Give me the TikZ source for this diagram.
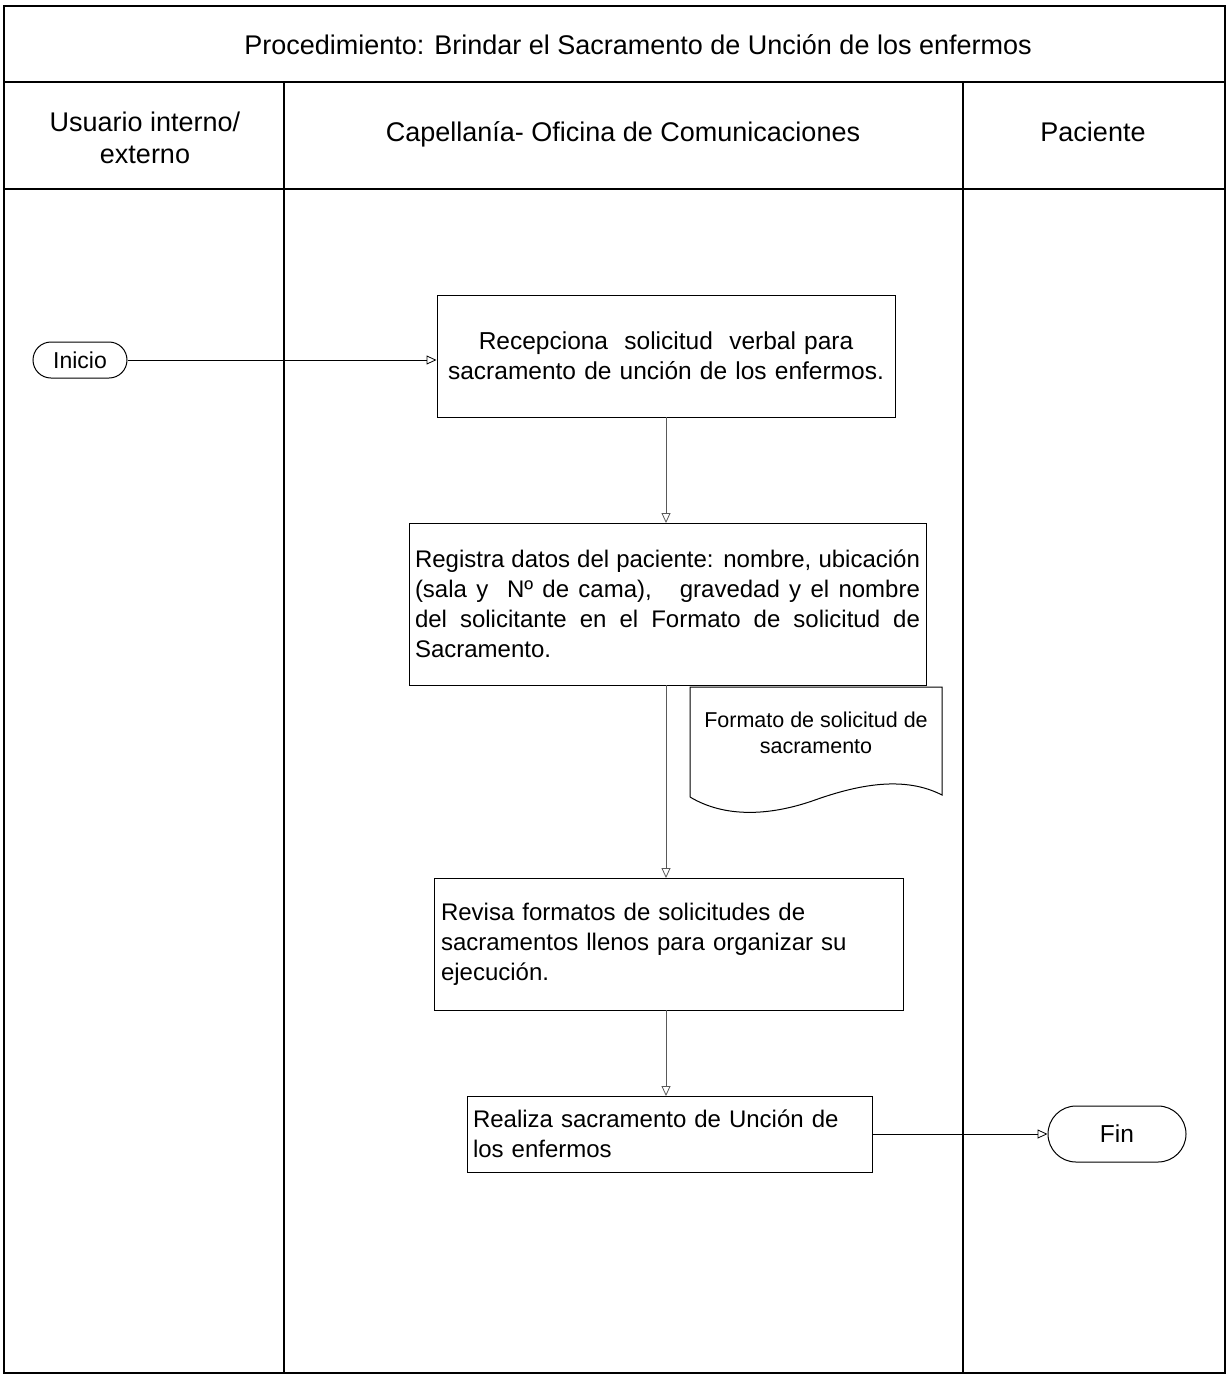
\documentclass[tikz,border=0pt]{standalone}
\usepackage{fontspec}
\setmainfont{Liberation Sans}
\usetikzlibrary{arrows.meta}
\newcommand\titlefont{\fontsize{27}{32}\selectfont}
\newcommand\boxfont{\fontsize{24.5}{30}\selectfont}
\newcommand\smallboxfont{\fontsize{24}{30}\selectfont}
\newcommand\docfont{\fontsize{21.5}{26}\selectfont}
\tikzset{
  frameline/.style={line width=1.6pt},
  laneline/.style={line width=1.1pt},
  stepbox/.style={draw, line width=1pt, rectangle, inner ysep=0pt, font=\boxfont},
  terminal/.style={draw, line width=1pt, rectangle, inner sep=0pt, font=\boxfont},
  flow/.style={line width=0.8pt, -{Triangle[open, length=10pt, width=9pt]}},
  vflow/.style={flow, draw=black!65},
}
\begin{document}
\begin{tikzpicture}[x=1pt, y=-1pt]
\useasboundingbox (0,0) rectangle (1228,1376);

% swimlane frame
\draw[frameline] (4,6) rectangle (1225,1373);
\draw[line width=2.4pt] (4,82) -- (1225,82);
\draw[frameline] (4,189) -- (1225,189);
\draw[laneline] (284,82) -- (284,1373);
\draw[laneline] (963,82) -- (963,1373);

% headings
\node[font=\titlefont] (title) at (638,45) {Procedimiento: Brindar el Sacramento de Unción de los enfermos};
\node[font=\titlefont, align=center] (h1) at (145,138) {Usuario interno/\\externo};
\node[font=\titlefont] (h2) at (623,134) {Capellanía- Oficina de Comunicaciones};
\node[font=\titlefont] (h3) at (1093,132) {Paciente};

% terminals
\node[terminal, rounded corners=18pt, minimum width=94pt, minimum height=36pt, font=\fontsize{23}{28}\selectfont] (inicio) at (80,360) {Inicio};
\node[terminal, rounded corners=28pt, minimum width=138pt, minimum height=56pt] (fin) at (1117,1134) {Fin};

% activities
\node[stepbox, inner xsep=7pt, text width=444pt, align=center, minimum height=122pt] (recep) at (666,356)
  {Recepciona\ \ solicitud\ \ verbal para\\sacramento de unción de los enfermos.};
\node[stepbox, font=\smallboxfont, inner xsep=6pt, text width=505pt, align=justify, minimum height=162pt] (registra) at (667.5,604)
  {Registra datos del paciente: nombre, ubicación\linebreak (sala y\ \ Nº de cama),\ \ \ gravedad y el nombre\linebreak del solicitante en el Formato de solicitud de\linebreak Sacramento.};
\node[stepbox, font=\smallboxfont, inner xsep=7pt, text width=455pt, align=left, minimum height=132pt] (revisa) at (668.5,944)
  {Revisa formatos de solicitudes de\\sacramentos llenos para organizar su\\ejecución.};
\node[stepbox, font=\smallboxfont, inner xsep=6pt, text width=393pt, align=left, minimum height=76pt] (realiza) at (669.5,1134)
  {Realiza sacramento de Unción de\\los enfermos};

% document produced by the registration step
\draw[line width=1pt] (690,797) -- (690,687) -- (942,687) -- (942,795)
  .. controls (905,776) and (860,784) .. (815,800)
  .. controls (770,816) and (725,818) .. (690,797);
\node[font=\docfont, align=center] (formato) at (816,733) {Formato de solicitud de\\sacramento};

% connectors
\draw[flow] (inicio.east) -- (recep.west |- inicio.east);
\draw[vflow] (666,417) -- (666,523);
\draw[vflow] (666,685) -- (666,878);
\draw[vflow] (666,1010) -- (666,1096);
\draw[flow] (realiza.east) -- (fin.west);
\end{tikzpicture}
\end{document}
